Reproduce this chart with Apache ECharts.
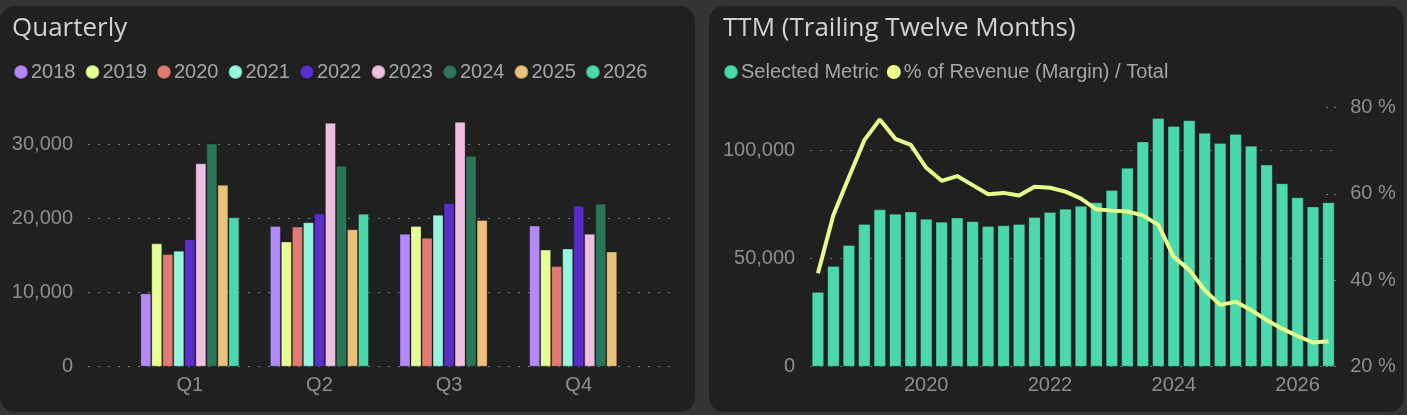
<!DOCTYPE html>
<html>
<head>
<meta charset="utf-8">
<script src="https://cdn.jsdelivr.net/npm/echarts@6/dist/echarts.min.js"></script>
<style>
  html, body { margin: 0; padding: 0; background: #343434; width: 1407px; height: 415px; overflow: hidden; }
  .panel { position: absolute; top: 6px; width: 695px; height: 406px; background: #202020; border-radius: 15px; overflow: hidden; }
  #left { left: 0px; }
  #right { left: 709px; }
  .chart { width: 100%; height: 100%; }
</style>
</head>
<body>
<div class="panel" id="left"><div class="chart" id="c1"></div></div>
<div class="panel" id="right"><div class="chart" id="c2"></div></div>
<script>
// ---------- Quarterly data ----------
const quarters = ['Q1', 'Q2', 'Q3', 'Q4'];
const years = ['2018', '2019', '2020', '2021', '2022', '2023', '2024', '2025', '2026'];
const q2018 = [9900, 19000, 17950, 19050];
const q2019 = [16650, 16900, 19000, 15800];
const q2020 = [15200, 18900, 17400, 13600];
const q2021 = [15650, 19500, 20500, 15950];
const q2022 = [17200, 20700, 22100, 21700];
const q2023 = [27450, 32900, 33050, 17950];
const q2024 = [30100, 27100, 28450, 22000];
const q2025 = [24550, 18550, 19800, 15550];
const q2026 = [20150, 20650, null, null];
const yearColors = ['#b388f8', '#e6ff96', '#e27b73', '#96f6dd', '#5a2fc9', '#efbfe1', '#2b7559', '#ebc27b', '#4cd8ad'];
const quarterlyTicks = [0, 10000, 20000, 30000];

// ---------- TTM data ----------
const ttmPeriods = [
  '2018 Q2','2018 Q3','2018 Q4',
  '2019 Q1','2019 Q2','2019 Q3','2019 Q4',
  '2020 Q1','2020 Q2','2020 Q3','2020 Q4',
  '2021 Q1','2021 Q2','2021 Q3','2021 Q4',
  '2022 Q1','2022 Q2','2022 Q3','2022 Q4',
  '2023 Q1','2023 Q2','2023 Q3','2023 Q4',
  '2024 Q1','2024 Q2','2024 Q3','2024 Q4',
  '2025 Q1','2025 Q2','2025 Q3','2025 Q4',
  '2026 Q1','2026 Q2','2026 Q3'
];
const ttmValues = [34600, 46600, 56300, 66000, 72800, 70700, 71800, 68400, 67000, 69000, 67300, 65100, 65400, 66000, 69300, 71600, 73100, 74400, 76100, 81800, 92000, 104200, 115000, 111300, 114000, 108200, 103500, 107700, 102200, 93500, 84900, 78400, 74100, 76100];
const marginPct = [41.6, 55.1, 63.8, 72.4, 77.2, 72.7, 71.3, 66.0, 63.0, 64.1, 62.0, 59.9, 60.2, 59.6, 61.6, 61.4, 60.5, 58.9, 56.4, 56.1, 55.9, 55.0, 52.8, 45.4, 42.4, 37.7, 34.3, 35.0, 33.1, 30.8, 28.8, 27.1, 25.6, 25.9];
const ttmSeriesNames = ['Selected Metric', '% of Revenue (Margin) / Total'];
const ttmColors = ['#4cd8ad', '#e6ff8c'];

const quarterlySeriesData = [q2018, q2019, q2020, q2021, q2022, q2023, q2024, q2025, q2026];

const FONT = '"Liberation Sans", Arial, sans-serif';
const TITLE_FONT = '"Open Sans", "Liberation Sans", sans-serif';
const labelColor = '#8e8e8e';
const gridLine = { type: [2, 8], color: ['#7a7a7a', '#7a7a7a', '#7a7a7a', '#7a7a7a', 'rgba(0,0,0,0)'], width: 1.2 };

// ---------- Chart 1 ----------
const c1 = echarts.init(document.getElementById('c1'));
c1.setOption({
  animation: false,
  backgroundColor: 'transparent',
  textStyle: { fontFamily: FONT },
  title: {
    text: 'Quarterly', left: 7, top: 5,
    textStyle: { color: '#d2d2d2', fontSize: 26, fontWeight: 'normal', fontFamily: TITLE_FONT }
  },
  legend: {
    data: years, left: 13, top: 56, padding: 0,
    icon: 'circle', itemWidth: 14, itemHeight: 14, itemGap: 9,
    textStyle: { color: '#a6a6a6', fontSize: 20, fontFamily: FONT, padding: [0, 0, 0, -2] }
  },
  grid: [
    { left: 88, right: 17, top: 101.3, bottom: 45.3 },
    { left: 125, right: 51.5, top: 101.3, bottom: 45.3 }
  ],
  xAxis: [
    { gridIndex: 0, type: 'category', data: quarters, show: false },
    { gridIndex: 1, type: 'category', data: quarters,
      axisLine: { show: false }, axisTick: { show: false },
      axisLabel: { color: labelColor, fontSize: 20, margin: 9, fontFamily: FONT } }
  ],
  yAxis: [
    { gridIndex: 0, type: 'value', min: 0, max: 35000, interval: 10000,
      axisLine: { show: false }, axisTick: { show: false },
      axisLabel: { color: labelColor, fontSize: 20, margin: 15, fontFamily: FONT, showMaxLabel: false,
        formatter: v => quarterlyTicks.indexOf(v) >= 0 ? v.toLocaleString('en-US') : '' },
      splitLine: { show: true, lineStyle: gridLine } },
    { gridIndex: 1, type: 'value', min: 0, max: 35000, interval: 10000, show: false,
      splitLine: { show: false } }
  ],
  series: years.map((y, i) => ({
    name: y, type: 'bar', xAxisIndex: 1, yAxisIndex: 1,
    data: quarterlySeriesData[i],
    barGap: '0%', barCategoryGap: '23.5%',
    itemStyle: { color: yearColors[i], borderColor: 'rgba(0,0,0,0.28)', borderWidth: 1 }
  }))
});

// ---------- Chart 2 ----------
const c2 = echarts.init(document.getElementById('c2'));
c2.setOption({
  animation: false,
  backgroundColor: 'transparent',
  textStyle: { fontFamily: FONT },
  color: ttmColors,
  title: {
    text: 'TTM (Trailing Twelve Months)', left: 9, top: 5,
    textStyle: { color: '#d2d2d2', fontSize: 26, fontWeight: 'normal', fontFamily: TITLE_FONT }
  },
  legend: {
    data: ttmSeriesNames, left: 14, top: 56, padding: 0,
    icon: 'circle', itemWidth: 14, itemHeight: 14, itemGap: 8,
    textStyle: { color: '#a6a6a6', fontSize: 20, fontFamily: FONT, padding: [0, 0, 0, -2] }
  },
  grid: { left: 101.2, right: 67.8, top: 101.3, bottom: 45.3 },
  xAxis: {
    type: 'category', data: ttmPeriods,
    axisLine: { show: false }, axisTick: { show: false },
    axisLabel: {
      color: labelColor, fontSize: 20, margin: 9, fontFamily: FONT,
      interval: (idx, val) => val.endsWith('Q1') && (parseInt(val, 10) % 2 === 0),
      formatter: val => val.slice(0, 4)
    }
  },
  yAxis: [
    { type: 'value', min: 0, max: 120000, interval: 50000,
      axisLine: { show: false }, axisTick: { show: false },
      axisLabel: { color: labelColor, fontSize: 20, margin: 15, fontFamily: FONT, showMaxLabel: false,
        formatter: v => (v % 50000 === 0) ? v.toLocaleString('en-US') : '' },
      splitLine: { show: true, lineStyle: { type: [2, 8], color: ['#7a7a7a', '#7a7a7a', '#7a7a7a', 'rgba(0,0,0,0)'], width: 1.2 } } },
    { type: 'value', min: 20, max: 80, interval: 20, position: 'right',
      axisLine: { show: false },
      axisTick: { show: true, inside: true, length: 12, lineStyle: { type: [2, 6], color: '#8a8a8a', width: 1.2 } },
      axisLabel: { color: labelColor, fontSize: 20, margin: 14, fontFamily: FONT, formatter: '{value} %' },
      splitLine: { show: false } }
  ],
  series: [
    { name: ttmSeriesNames[0], type: 'bar', data: ttmValues, yAxisIndex: 0,
      barCategoryGap: '20%',
      itemStyle: { color: ttmColors[0], borderColor: 'rgba(0,0,0,0.22)', borderWidth: 1 } },
    { name: ttmSeriesNames[1], type: 'line', data: marginPct, yAxisIndex: 1,
      showSymbol: false, symbol: 'none', z: 5,
      itemStyle: { color: ttmColors[1] },
      lineStyle: { color: ttmColors[1], width: 4 } }
  ]
});
</script>
</body>
</html>
